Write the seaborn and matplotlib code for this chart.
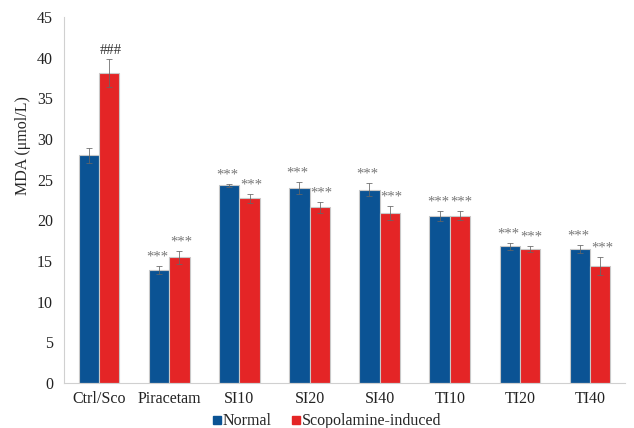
import numpy as np
import pandas as pd
import matplotlib
matplotlib.use("Agg")
import matplotlib.pyplot as plt
from matplotlib.lines import Line2D
import seaborn as sns

groups = ["Ctrl/Sco", "Piracetam", "SI10", "SI20", "SI40", "TI10", "TI20", "TI40"]
normal_mean = [28.0, 13.9, 24.3, 24.0, 23.8, 20.5, 16.8, 16.5]
normal_err = [0.9, 0.5, 0.2, 0.7, 0.8, 0.6, 0.4, 0.5]
scop_mean = [38.1, 15.5, 22.7, 21.6, 20.9, 20.6, 16.5, 14.4]
scop_err = [1.7, 0.8, 0.5, 0.7, 0.9, 0.6, 0.4, 1.1]
normal_sig = ["", "***", "***", "***", "***", "***", "***", "***"]
scop_sig = ["###", "***", "***", "***", "***", "***", "***", "***"]
series = ["Normal", "Scopolamine-induced"]
colors = ["#0b5394", "#e42526"]

df = pd.DataFrame({
    "group": groups * 2,
    "series": [series[0]] * len(groups) + [series[1]] * len(groups),
    "mda": normal_mean + scop_mean,
})

sns.set_style("white")
plt.rcParams["font.family"] = ["Liberation Serif", "DejaVu Serif"]

fig = plt.figure(figsize=(6.34, 4.28), dpi=100)
ax = fig.add_axes([0.101, 0.105, 0.885, 0.855])

sns.barplot(data=df, x="group", y="mda", hue="series", order=groups,
            hue_order=series, palette=colors, saturation=1, width=0.58,
            errorbar=None, edgecolor="#c8c8c8", linewidth=0.8, legend=False,
            ax=ax)

# error bars and significance marks on top of each bar
means = [normal_mean, scop_mean]
errs = [normal_err, scop_err]
sigs = [normal_sig, scop_sig]
nudge = [-0.025, 0.025]  # spread paired marks apart slightly
bar_sets = list(ax.containers)
for s, cont in enumerate(bar_sets):
    for i, bar in enumerate(cont.patches):
        x = bar.get_x() + bar.get_width() / 2
        m, e = means[s][i], errs[s][i]
        ax.errorbar(x, m, yerr=e, fmt="none", ecolor="#666666",
                    elinewidth=0.7, capsize=2, capthick=0.7, alpha=0.8, zorder=5)
        label = sigs[s][i]
        if label:
            color = "#333333" if label.startswith("#") else "#777777"
            ax.text(x + nudge[s], m + e + 0.3, label, ha="center", va="bottom",
                    fontsize=10.5, color=color)

ax.set_ylim(0, 45)
ax.set_xlim(-0.5, len(groups) - 0.5)
ax.set_yticks(np.arange(0, 46, 5))
ax.set_ylabel("MDA (μmol/L)", fontsize=11.5)
ax.yaxis.set_label_coords(-0.059, 0.648)
ax.set_xlabel("")
ax.tick_params(axis="both", labelsize=11.5, colors="#222222")
ax.tick_params(axis="x", length=0, pad=6)
ax.tick_params(axis="y", length=3, color="#d8d8d8", width=0.8, pad=5)
ax.set_xticks(np.arange(-0.5, len(groups), 1), minor=True)
ax.tick_params(axis="x", which="minor", length=4, color="#d0d0d0", width=0.8)

for side in ["top", "right"]:
    ax.spines[side].set_visible(False)
for side in ["left", "bottom"]:
    ax.spines[side].set_color("#d0d0d0")
    ax.spines[side].set_linewidth(0.8)

handles = [Line2D([], [], marker="s", linestyle="none", markersize=6,
                  markerfacecolor=c, markeredgecolor=c) for c in colors]
fig.legend(handles, series, loc="lower center", bbox_to_anchor=(0.513, -0.037),
           ncol=2, frameon=False, fontsize=11.5, handletextpad=-0.1,
           columnspacing=1.0, handlelength=1.0)

fig.savefig("out.png", dpi=100)
